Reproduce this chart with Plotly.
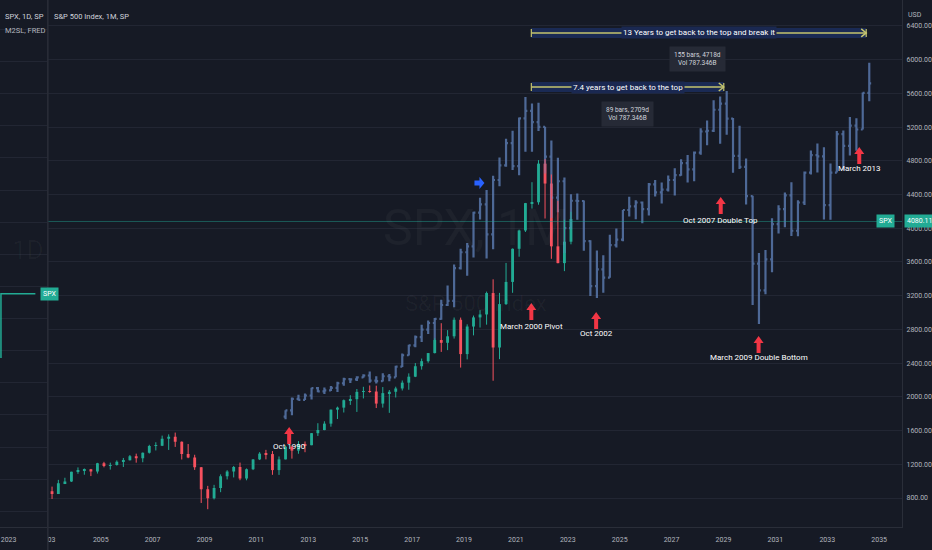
import pandas as pd
import plotly.graph_objects as go

# SPX quarterly candles, 2003 Q1 .. 2023 Q1 (main series)
spx_open = [880, 848, 975, 996, 1112, 1126, 1141, 1115, 1212, 1181, 1191, 1229, 1248, 1295, 1270, 1336,
            1418, 1421, 1503, 1527, 1468, 1323, 1280, 1166, 903, 798, 919, 1057, 1115, 1169, 1031, 1141,
            1258, 1326, 1321, 1131, 1258, 1408, 1362, 1441, 1426, 1569, 1606, 1682, 1848, 1872, 1960, 1972,
            2059, 2068, 2063, 1920, 2044, 2060, 2099, 2168, 2239, 2363, 2423, 2519, 2674, 2641, 2718, 2914,
            2507, 2834, 2942, 2977, 3231, 2585, 3100, 3363, 3756, 3973, 4298, 4308, 4766, 4530, 3785, 3586,
            3840]
spx_high = [935, 1015, 1040, 1112, 1163, 1150, 1145, 1217, 1229, 1219, 1246, 1275, 1310, 1326, 1340, 1431,
            1461, 1540, 1555, 1576, 1471, 1440, 1313, 1167, 944, 956, 1080, 1130, 1180, 1220, 1150, 1262,
            1344, 1371, 1357, 1293, 1420, 1422, 1475, 1470, 1570, 1687, 1710, 1849, 1884, 1968, 2019, 2093,
            2119, 2135, 2132, 2116, 2081, 2120, 2194, 2278, 2401, 2454, 2520, 2695, 2873, 2791, 2941, 2940,
            2860, 2964, 3028, 3248, 3394, 3233, 3588, 3760, 3983, 4300, 4546, 4808, 4818, 4637, 4325, 4101,
            4195]
spx_low = [789, 847, 965, 990, 1087, 1076, 1060, 1090, 1164, 1137, 1184, 1168, 1245, 1219, 1224, 1327,
           1364, 1416, 1370, 1406, 1257, 1272, 1133, 741, 667, 783, 869, 1020, 1044, 1011, 1010, 1131,
           1250, 1258, 1075, 1074, 1258, 1267, 1325, 1343, 1426, 1536, 1604, 1646, 1737, 1814, 1904, 1821,
           1981, 2048, 1867, 1872, 1810, 1992, 2075, 2084, 2234, 2323, 2405, 2515, 2533, 2554, 2691, 2347,
           2444, 2729, 2822, 2856, 2191, 2447, 3090, 3234, 3662, 3955, 4233, 4279, 4115, 3637, 3584, 3491,
           3809]
spx_close = [848, 975, 996, 1112, 1126, 1141, 1115, 1212, 1181, 1191, 1229, 1248, 1295, 1270, 1336, 1418,
             1421, 1503, 1527, 1468, 1323, 1280, 1166, 903, 798, 919, 1057, 1115, 1169, 1031, 1141, 1258,
             1326, 1321, 1131, 1258, 1408, 1362, 1441, 1426, 1569, 1606, 1682, 1848, 1872, 1960, 1972, 2059,
             2068, 2063, 1920, 2044, 2060, 2099, 2168, 2239, 2363, 2423, 2519, 2674, 2641, 2718, 2914, 2507,
             2834, 2942, 2977, 3231, 2585, 3100, 3363, 3756, 3973, 4298, 4308, 4766, 4530, 3785, 3586, 3840,
             4109]

# S&P 500 Index 1M compare overlay (1990 Q4 .. 2013 Q2), values as read on the chart scale
cmp_open = [1766, 1839, 1976, 1964, 2016, 2104, 2064, 2076, 2107, 2161, 2210, 2207, 2231, 2253, 2192, 2186,
            2244, 2231, 2359, 2493, 2611, 2709, 2797, 2876, 2924, 3089, 3137, 3526, 3715, 3785, 4186, 4283,
            3928, 4572, 4745, 5010, 4736, 5302, 5393, 5259, 5201, 4849, 4362, 4557, 4001, 4326, 4323, 3846,
            3314, 3511, 3414, 3800, 3864, 4216, 4259, 4305, 4226, 4520, 4426, 4457, 4572, 4630, 4773, 4697,
            4897, 5147, 5156, 5405, 5478, 5299, 4858, 4727, 4381, 3581, 3262, 3630, 4049, 4226, 4390, 3970,
            4305, 4660, 4867, 4852, 4274, 4660, 5116, 4976, 5217, 5171, 5606]
cmp_high = [1842, 1991, 2025, 2040, 2107, 2116, 2110, 2128, 2180, 2225, 2216, 2244, 2268, 2301, 2244, 2280,
            2271, 2368, 2514, 2617, 2727, 2855, 2906, 2934, 3152, 3320, 3569, 3757, 3824, 4195, 4362, 4454,
            4621, 4840, 5062, 5156, 5314, 5557, 5478, 5487, 5204, 5040, 4837, 4603, 4402, 4411, 4330, 3858,
            3736, 3678, 3922, 3998, 4216, 4372, 4332, 4318, 4536, 4572, 4542, 4624, 4712, 4818, 4867, 4910,
            5186, 5277, 5518, 5563, 5627, 5308, 5214, 4828, 4384, 3706, 3742, 4119, 4271, 4423, 4545, 4332,
            4672, 4922, 5004, 4961, 4767, 5153, 5159, 5320, 5305, 5609, 5964]
cmp_low = [1733, 1781, 1955, 1961, 1967, 2055, 2034, 2070, 2058, 2131, 2164, 2189, 2225, 2168, 2158, 2183,
           2186, 2231, 2353, 2490, 2587, 2651, 2745, 2675, 2915, 3076, 3064, 3511, 3435, 3654, 4104, 3642,
           3751, 4499, 4730, 4691, 4627, 4907, 4907, 5153, 4648, 4122, 4189, 3706, 3992, 4101, 3733, 3195,
           3171, 3235, 3411, 3770, 3846, 4140, 4107, 4058, 4150, 4375, 4292, 4435, 4387, 4621, 4542, 4557,
           4870, 4983, 5141, 5001, 5110, 4657, 4703, 4280, 3089, 2864, 3216, 3478, 3937, 4010, 3909, 3906,
           4274, 4636, 4660, 4104, 4101, 4660, 4688, 4864, 4919, 5171, 5505]
cmp_close = [1839, 1976, 1964, 2016, 2104, 2064, 2076, 2107, 2161, 2210, 2207, 2231, 2253, 2192, 2186, 2244,
             2231, 2359, 2493, 2611, 2709, 2797, 2876, 2924, 3089, 3137, 3526, 3715, 3785, 4186, 4283, 3928,
             4572, 4745, 5010, 4736, 5302, 5393, 5259, 5201, 4849, 4362, 4557, 4001, 4326, 4323, 3846, 3314,
             3511, 3414, 3800, 3864, 4216, 4259, 4305, 4226, 4520, 4426, 4457, 4572, 4630, 4773, 4697, 4897,
             5147, 5156, 5405, 5478, 5299, 4858, 4727, 4381, 3581, 3262, 3630, 4049, 4226, 4390, 3970, 4305,
             4660, 4867, 4852, 4274, 4660, 5116, 4976, 5217, 5171, 5606, 5718]

# small left pane (SPX 1D)
left_dates = ["2023-03-28", "2023-03-28", "2023-04-15"]
left_close = [4010, 4080, 4080]
last_price = 4080.11

y_ticks = [800, 1200, 1600, 2000, 2400, 2800, 3200, 3600, 4000, 4400, 4800, 5200, 5600, 6000, 6400]
x_tick_dates = ["2003-02-08"] + [f"{y}-01-01" for y in range(2005, 2036, 2)]
x_tick_text = ["03"] + [str(y) for y in range(2005, 2036, 2)]

# chart notes: (tip date, tip price, label, label price)
notes = [
    ("2012-04-06", 1642, "Oct 1990", 1405),
    ("2021-08-06", 3113, "March 2000 Pivot", 2840),
    ("2024-02-04", 3006, "Oct 2002", 2757),
    ("2028-11-23", 4371, "Oct 2007 Double Top", 4086),
    ("2030-05-10", 2722, "March 2009 Double Bottom", 2461),
    ("2034-03-27", 4964, "March 2013", 4703),
]
# date ranges: (start, end, price, label, label date, stats, stats date, stats price)
ranges = [
    ("2021-08-06", "2029-01-05", 5675, "7.4 years to get back to the top", "2025-04-28",
     "89 bars, 2709d<br>Vol 787.346B", "2025-04-14", 5349),
    ("2021-08-06", "2034-07-03", 6316, "13 Years to get back to the top and break it", "2028-01-19",
     "155 bars, 4718d<br>Vol 787.346B", "2028-01-05", 6002),
]

W, H = 932, 550
BG = "#161a25"
GRID = "#222633"
AXIS = "#2a2e39"
TXT = "#b2b5be"
UP = "#22ab94"
DOWN = "#f7525f"
CMP = "rgba(98,132,190,0.75)"
RANGE_LINE = "#c4c46e"
FONT = "Roboto, Liberation Sans, sans-serif"
DAY_MS = 86400000

spx_dates = pd.date_range("2003-02-01", periods=len(spx_close), freq="3MS") + pd.Timedelta(days=14)
cmp_dates = pd.date_range("2012-02-01", periods=len(cmp_close), freq="3MS") + pd.Timedelta(days=14)

rising = [c >= o for o, c in zip(spx_open, spx_close)]
body_color = [UP if r else DOWN for r in rising]

fig = go.Figure()
# candle wicks, one trace per colour
for want, color in ((True, UP), (False, DOWN)):
    wx, wy = [], []
    for d, lo, hi, r in zip(spx_dates, spx_low, spx_high, rising):
        if r == want:
            wx += [d, d, None]
            wy += [lo, hi, None]
    fig.add_trace(go.Scatter(x=wx, y=wy, mode="lines", line=dict(color=color, width=1),
                             showlegend=False, hoverinfo="skip"))
# candle bodies
fig.add_trace(go.Bar(
    x=spx_dates, y=[abs(c - o) for o, c in zip(spx_open, spx_close)],
    base=[min(o, c) for o, c in zip(spx_open, spx_close)],
    width=40 * DAY_MS, marker=dict(color=body_color, line=dict(width=0)),
    showlegend=False, hoverinfo="skip"))
fig.add_trace(go.Ohlc(
    x=cmp_dates, open=cmp_open, high=cmp_high, low=cmp_low, close=cmp_close,
    increasing=dict(line=dict(color=CMP, width=2.2)),
    decreasing=dict(line=dict(color=CMP, width=2.2)),
    tickwidth=0.3, showlegend=False, hoverinfo="skip"))
fig.add_trace(go.Scatter(
    x=left_dates, y=left_close, mode="lines", line=dict(color=UP, width=1.5),
    xaxis="x2", yaxis="y2", showlegend=False, hoverinfo="skip"))

shapes = [
    dict(type="line", xref="paper", yref="y", x0=48 / W, x1=905 / W, y0=last_price, y1=last_price,
         line=dict(color="rgba(34,171,148,0.45)", width=1)),
    dict(type="line", xref="paper", yref="paper", x0=48 / W, x1=48 / W, y0=0, y1=1,
         line=dict(color=AXIS, width=1.5)),
]
annotations = []


def txt(text, x, y, size=8, color="#ffffff", xref="x", yref="y", **kw):
    annotations.append(dict(text=text, x=x, y=y, xref=xref, yref=yref, showarrow=False,
                            font=dict(family=FONT, size=size, color=color), **kw))


for tip_x, tip_y, label, label_y in notes:
    shapes.append(dict(type="path", xref="x", yref="y", xsizemode="pixel", ysizemode="pixel",
                       xanchor=tip_x, yanchor=tip_y,
                       path="M0,0 L5,-7 L2,-7 L2,-17 L-2,-17 L-2,-7 L-5,-7 Z",
                       fillcolor="#f23645", line=dict(width=0)))
    txt(label, tip_x, label_y)

# blue arrow mark
shapes.append(dict(type="path", xref="x", yref="y", xsizemode="pixel", ysizemode="pixel",
                   xanchor="2019-10-16", yanchor=4537,
                   path="M0,0 L-5,6 L-5,2.5 L-10,2.5 L-10,-2.5 L-5,-2.5 L-5,-6 Z",
                   fillcolor="#2962ff", line=dict(width=0)))

for x0, x1, p, label, lx, stats, sx, sy in ranges:
    shapes.append(dict(type="rect", xref="x", yref="y", x0=x0, x1=x1, y0=p - 60, y1=p + 60,
                       fillcolor="rgba(41,98,255,0.22)", line=dict(width=0)))
    shapes.append(dict(type="line", xref="x", yref="y", x0=x0, x1=x1, y0=p, y1=p,
                       line=dict(color=RANGE_LINE, width=1.5)))
    for xe in (x0, x1):
        shapes.append(dict(type="line", xref="x", yref="y", x0=xe, x1=xe, y0=p - 48, y1=p + 48,
                           line=dict(color=RANGE_LINE, width=1.2)))
    shapes.append(dict(type="path", xref="x", yref="y", xsizemode="pixel", ysizemode="pixel",
                       xanchor=x1, yanchor=p, path="M-5,4 L0,0 L-5,-4",
                       line=dict(color=RANGE_LINE, width=1.5)))
    txt(label, lx, p, size=8, bgcolor="#1a2851", borderpad=1)
    txt(stats, sx, sy, size=6.5, color="#d1d4dc", bgcolor="#262a36", borderpad=4)

# watermarks
txt("SPX, 1M", 478 / W, 1 - 228 / H, size=50, color="rgba(255,255,255,0.035)", xref="paper", yref="paper")
txt("S&P 500 Index", 478 / W, 1 - 303 / H, size=22, color="rgba(255,255,255,0.035)", xref="paper", yref="paper")
txt("1D", 46 / W, 1 - 250 / H, size=26, color="rgba(255,255,255,0.03)", xref="paper", yref="paper",
    xanchor="right")

# legends / titles
txt("SPX, 1D, SP", 3 / W, 1 - 10 / H, size=7.5, color="#d1d4dc", xref="paper", yref="paper", xanchor="left")
txt("M2SL, FRED", 3 / W, 1 - 24 / H, size=7.5, color="#b2b5be", xref="paper", yref="paper", xanchor="left")
txt("S&P 500 Index, 1M, SP", 52 / W, 1 - 10 / H, size=7.5, color="#d1d4dc", xref="paper", yref="paper",
    xanchor="left")
txt("USD", 909 / W, 1 - 9 / H, size=7, color=TXT, xref="paper", yref="paper", xanchor="left")

# price tags
txt("SPX", 898 / W, last_price, size=7, xref="paper", bgcolor=UP, borderpad=2)
txt(f"{last_price:.2f}", 907 / W, last_price, size=7, xref="paper", xanchor="left", bgcolor=UP, borderpad=2)
txt("SPX", 40 / W, left_close[-1], size=7, xref="paper", yref="y2", bgcolor=UP, borderpad=2)

tick_font = dict(family=FONT, size=7, color=TXT)
fig.update_layout(
    width=W, height=H,
    margin=dict(l=0, r=0, t=0, b=0),
    paper_bgcolor=BG, plot_bgcolor=BG,
    showlegend=False,
    xaxis=dict(domain=[48 / W, 905 / W], type="date", range=["2002-12-18", "2035-11-20"],
               tickvals=x_tick_dates, ticktext=x_tick_text, showgrid=False, zeroline=False,
               showline=True, linecolor=AXIS, tickfont=tick_font, ticklabelstandoff=6,
               rangeslider=dict(visible=False), anchor="y"),
    yaxis=dict(domain=[23 / H, 1], range=[456, 6707], side="right", tickvals=y_ticks,
               ticktext=[f"{v:.2f}" for v in y_ticks], gridcolor=GRID, zeroline=False,
               showline=True, linecolor=AXIS, tickfont=tick_font, ticklabelstandoff=2, anchor="x"),
    xaxis2=dict(domain=[0, 47 / W], type="date", range=["2023-03-27 12:00", "2023-04-21"],
                tickvals=["2023-04-01"], ticktext=["2023"], showgrid=False, zeroline=False,
                showline=True, linecolor=AXIS, tickfont=tick_font, ticklabelstandoff=6, anchor="y2"),
    yaxis2=dict(domain=[23 / H, 1], range=[3826, 4400], showticklabels=False, tick0=4158, dtick=35,
                gridcolor=GRID, zeroline=False, anchor="x2"),
    shapes=shapes,
    annotations=annotations,
)

fig.write_html("out.html", config={"displayModeBar": False},
               post_script="document.body.style.margin='0';document.body.style.overflow='hidden';")
